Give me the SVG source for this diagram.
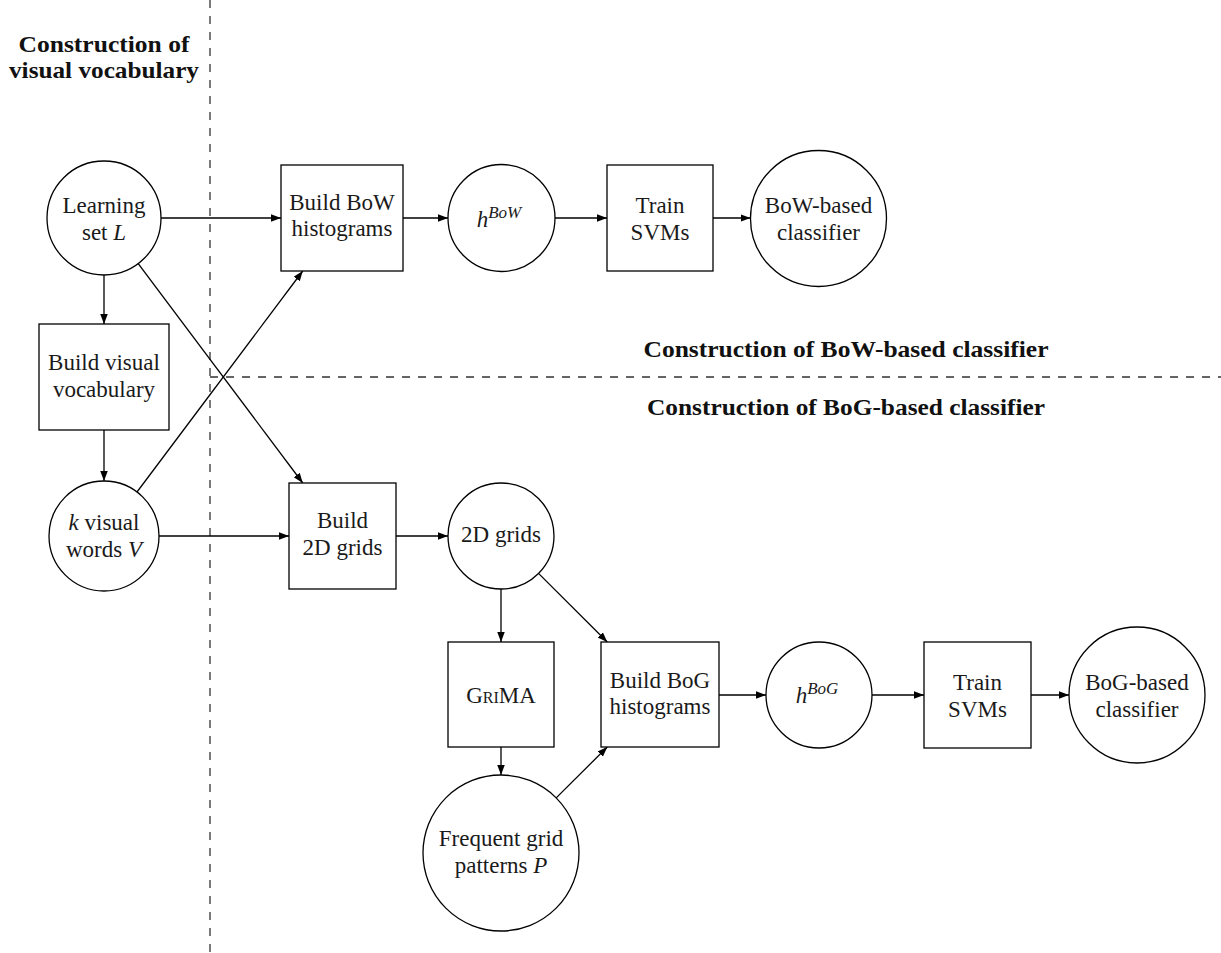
<svg xmlns="http://www.w3.org/2000/svg" width="1221" height="953" viewBox="0 0 1221 953">
<defs>
<marker id="arr" markerUnits="userSpaceOnUse" markerWidth="11" markerHeight="8" refX="10" refY="3.75" orient="auto">
<path d="M0,0 L10,3.75 L0,7.5 z" fill="#000"/>
</marker>
<style>
.n{fill:#fff;stroke:#000;stroke-width:1.3}
.t{font-family:"Liberation Serif","Times New Roman",serif;font-size:23px;fill:#1a1a1a;text-anchor:middle}
.i{font-style:italic}
.sup{font-style:italic;font-size:17px}
.b{font-family:"Liberation Serif","Times New Roman",serif;font-size:23px;font-weight:bold;fill:#111;text-anchor:middle}
.e{fill:none;stroke:#000;stroke-width:1.3;marker-end:url(#arr)}
.d{fill:none;stroke:#333;stroke-width:1.3;stroke-dasharray:8 8}
.sc{font-variant:small-caps}
</style>
</defs>
<rect width="1221" height="953" fill="#fff"/>
<g id="separators">
<line class="d" x1="210" y1="0" x2="210" y2="953"/>
<line class="d" x1="210" y1="377" x2="1221" y2="377"/>
</g>
<g id="labels">
<text class="b" x="104" y="52" textLength="171" lengthAdjust="spacingAndGlyphs">Construction of</text>
<text class="b" x="104" y="78" textLength="190" lengthAdjust="spacingAndGlyphs">visual vocabulary</text>
<text class="b" x="846" y="357" textLength="405" lengthAdjust="spacingAndGlyphs">Construction of BoW-based classifier</text>
<text class="b" x="846" y="415" textLength="398" lengthAdjust="spacingAndGlyphs">Construction of BoG-based classifier</text>
</g>
<g id="connectors">
<line class="e" x1="161" y1="218" x2="281" y2="218"/>
<line class="e" x1="104" y1="275" x2="104" y2="324"/>
<line class="e" x1="138.2" y1="263.6" x2="302.75" y2="483"/>
<line class="e" x1="104" y1="430" x2="104" y2="481"/>
<line class="e" x1="137" y1="492" x2="302.75" y2="271"/>
<line class="e" x1="159" y1="536" x2="289" y2="536"/>
<line class="e" x1="403" y1="218" x2="448" y2="218"/>
<line class="e" x1="555" y1="218" x2="607" y2="218"/>
<line class="e" x1="713" y1="218" x2="750.5" y2="218"/>
<line class="e" x1="396" y1="536" x2="448" y2="536"/>
<line class="e" x1="501" y1="589" x2="501" y2="642"/>
<line class="e" x1="538.5" y1="573.4" x2="607.3" y2="642"/>
<line class="e" x1="501" y1="747" x2="501" y2="775"/>
<line class="e" x1="556.2" y1="797.9" x2="607.3" y2="747"/>
<line class="e" x1="719" y1="695" x2="766" y2="695"/>
<line class="e" x1="872" y1="695" x2="924" y2="695"/>
<line class="e" x1="1031" y1="695" x2="1069" y2="695"/>
</g>
<g id="learning">
<circle class="n" cx="104" cy="218" r="57"/>
<text class="t" x="104" y="213">Learning</text>
<text class="t" x="104" y="240">set <tspan class="i">L</tspan></text>
</g>
<g id="buildbow">
<rect class="n" x="281" y="165" width="122" height="106"/>
<text class="t" x="342" y="210">Build BoW</text>
<text class="t" x="342" y="236">histograms</text>
</g>
<g id="hbow">
<circle class="n" cx="501.5" cy="218" r="53.5"/>
<text class="t" x="499" y="227"><tspan class="i">h</tspan><tspan class="sup" dy="-9">BoW</tspan></text>
</g>
<g id="trainbow">
<rect class="n" x="607" y="165" width="106" height="106"/>
<text class="t" x="660" y="213">Train</text>
<text class="t" x="660" y="240">SVMs</text>
</g>
<g id="bowclf">
<circle class="n" cx="818.5" cy="218.5" r="68"/>
<text class="t" x="818.5" y="213">BoW-based</text>
<text class="t" x="818.5" y="240">classifier</text>
</g>
<g id="vocab">
<rect class="n" x="39" y="324" width="130" height="106"/>
<text class="t" x="104" y="370">Build visual</text>
<text class="t" x="104" y="397">vocabulary</text>
</g>
<g id="words">
<circle class="n" cx="104" cy="536" r="55"/>
<text class="t" x="104" y="530"><tspan class="i">k</tspan> visual</text>
<text class="t" x="104" y="557">words <tspan class="i">V</tspan></text>
</g>
<g id="build2d">
<rect class="n" x="289" y="483" width="107" height="106"/>
<text class="t" x="342.5" y="528">Build</text>
<text class="t" x="342.5" y="555">2D grids</text>
</g>
<g id="grids">
<circle class="n" cx="501" cy="536" r="53"/>
<text class="t" x="501" y="542">2D grids</text>
</g>
<g id="grima">
<rect class="n" x="448" y="642" width="106" height="105"/>
<text class="t sc" x="501" y="703">GriMA</text>
</g>
<g id="buildbog">
<rect class="n" x="601" y="642" width="118" height="105"/>
<text class="t" x="660" y="688">Build BoG</text>
<text class="t" x="660" y="714">histograms</text>
</g>
<g id="hbog">
<circle class="n" cx="819" cy="695" r="53"/>
<text class="t" x="817" y="703"><tspan class="i">h</tspan><tspan class="sup" dy="-9">BoG</tspan></text>
</g>
<g id="trainbog">
<rect class="n" x="924" y="642" width="107" height="106"/>
<text class="t" x="977.5" y="690">Train</text>
<text class="t" x="977.5" y="717">SVMs</text>
</g>
<g id="bogclf">
<circle class="n" cx="1137" cy="695" r="68"/>
<text class="t" x="1137" y="690">BoG-based</text>
<text class="t" x="1137" y="717">classifier</text>
</g>
<g id="freq">
<circle class="n" cx="501" cy="853" r="78"/>
<text class="t" x="501" y="846">Frequent grid</text>
<text class="t" x="501" y="873">patterns <tspan class="i">P</tspan></text>
</g>
</svg>
